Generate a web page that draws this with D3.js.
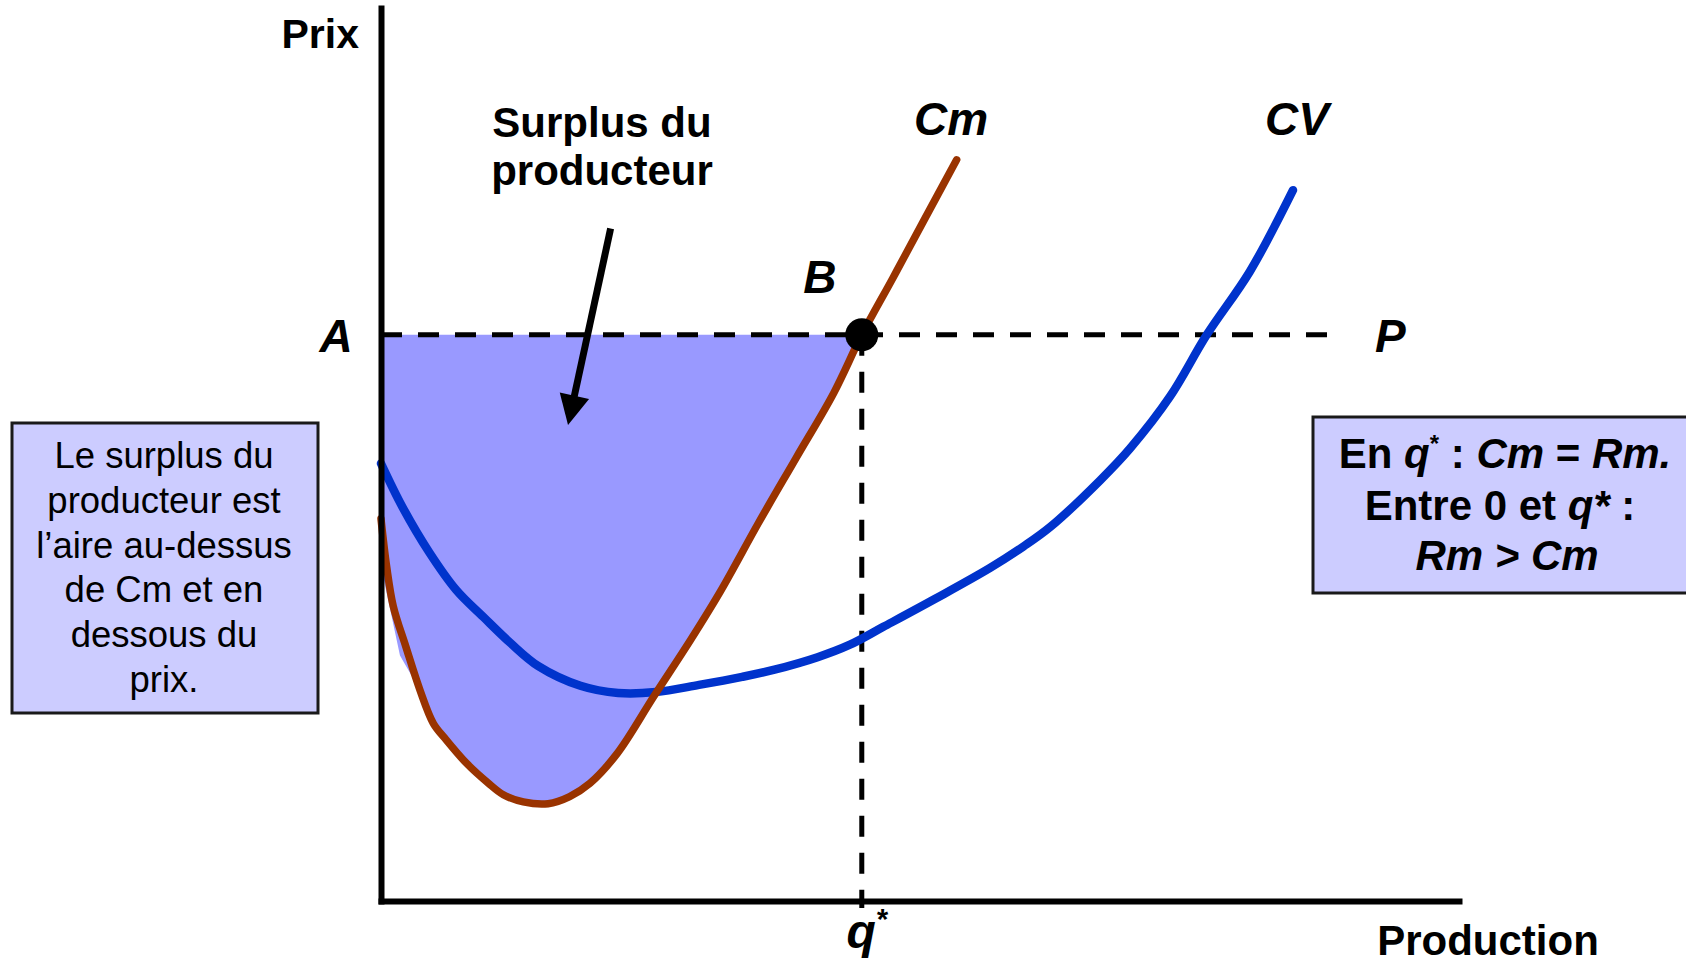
<!DOCTYPE html>
<html>
<head>
<meta charset="utf-8">
<script src="https://cdn.jsdelivr.net/npm/d3@7"></script>
<style>
  html, body { margin: 0; padding: 0; background: #ffffff; overflow: hidden; }
  svg { display: block; }
  text { font-family: "Liberation Sans", Arial, Helvetica, sans-serif; fill: #000; }
</style>
</head>
<body>
<div id="chart"></div>
<script>
// ---------------- data ----------------
const axisTitles = ["Prix", "Production"];
const priceLevel = 63.4;   // P (price line height)
const qStar = 44.6;        // q* where Cm = P

// marginal cost curve Cm : [quantity, price]
const cmCurve = [
  [0, 42.8], [0.53, 37.4], [1.14, 33.0], [2.3, 28.5], [3.62, 23.6], [4.85, 19.9],
  [5.94, 18.2], [7.95, 15.4], [9.95, 13.2], [11.35, 11.9], [13.2, 11.1], [15.5, 10.9],
  [17.5, 11.7], [19.4, 13.2], [21.9, 16.5], [25.3, 22.9], [28.7, 29.2], [31.5, 34.7],
  [35.0, 42.3], [38.5, 49.6], [42.0, 56.9], [44.6, 63.4], [47.5, 69.8], [50.4, 76.3], [53.4, 83.0]
];

// average variable cost curve CV : [quantity, price]
const cvCurve = [
  [0, 49.0], [2.0, 44.1], [4.5, 39.0], [7.0, 34.8], [9.5, 31.8], [12.0, 28.9],
  [14.6, 26.3], [18.5, 24.1], [22.0, 23.3], [25.5, 23.4], [29.5, 24.2], [33.5, 25.1],
  [36.5, 25.9], [40.5, 27.3], [43.5, 28.7], [46.6, 30.7], [51.5, 33.9], [56.5, 37.3],
  [59.6, 39.7], [62.1, 41.9], [66.7, 47.1], [69.5, 50.7], [73.2, 56.5], [76.6, 63.4],
  [80.6, 70.5], [84.6, 79.6]
];

// left edge of the shaded surplus (before it joins Cm)
const surplusLeftEdge = [[0, 63.4], [0, 37.5], [1.76, 27.5], [3.0, 24.9]];

// end of the dashed price line, arrow (from, to)
const priceLineEnd = 89.0;
const arrowFrom = [21.3, 75.3];
const arrowTo = [17.35, 53.3];

const curveLabels = ["Cm", "CV"];
const pointLabels = ["A", "B", "P"];
const surplusTitle = ["Surplus du", "producteur"];
const leftBoxLines = ["Le surplus du", "producteur est", "l\u2019aire au-dessus", "de Cm et en", "dessous du", "prix."];

// ---------------- drawing ----------------
const W = 1686, H = 965;
const svg = d3.select("#chart").append("svg").attr("width", W).attr("height", H);

const x = d3.scaleLinear().domain([0, 100]).range([381, 1459]);
const y = d3.scaleLinear().domain([0, 100]).range([901, 8]);

const COL_CM = "#993300", COL_CV = "#0033cc", COL_FILL = "#9999ff", COL_BOX = "#ccccff";

// surplus fill
const fillPts = surplusLeftEdge.concat(cmCurve.filter(d => d[0] > 3.0 && d[0] <= qStar));
svg.append("path")
  .attr("d", d3.line().x(d => x(d[0])).y(d => y(d[1]))(fillPts) + "Z")
  .attr("fill", COL_FILL).attr("stroke", "none");

// dashed lines
svg.append("line")
  .attr("x1", x(0)).attr("x2", x(priceLineEnd))
  .attr("y1", y(priceLevel)).attr("y2", y(priceLevel))
  .attr("stroke", "#000").attr("stroke-width", 5).attr("stroke-dasharray", "21,16");
svg.append("line")
  .attr("x1", x(qStar)).attr("x2", x(qStar))
  .attr("y1", y(priceLevel)).attr("y2", y(0) + 7)
  .attr("stroke", "#000").attr("stroke-width", 5).attr("stroke-dasharray", "21,16");

// curves
const lineGen = d3.line().x(d => x(d[0])).y(d => y(d[1])).curve(d3.curveCatmullRom.alpha(0.5));
svg.append("path").attr("d", lineGen(cvCurve))
  .attr("fill", "none").attr("stroke", COL_CV).attr("stroke-width", 8.5)
  .attr("stroke-linecap", "round").attr("stroke-linejoin", "round");
svg.append("path").attr("d", lineGen(cmCurve))
  .attr("fill", "none").attr("stroke", COL_CM).attr("stroke-width", 7.5)
  .attr("stroke-linecap", "round").attr("stroke-linejoin", "round");

// axes (no ticks)
svg.append("g").attr("transform", `translate(0,${y(0)})`)
  .call(d3.axisBottom(x).tickValues([]).tickSizeOuter(0));
svg.append("g").attr("transform", `translate(${x(0)},0)`)
  .call(d3.axisLeft(y).tickValues([]).tickSizeOuter(0));
svg.selectAll(".domain").attr("stroke", "#000").attr("stroke-width", 6).attr("stroke-linecap", "square");

// point B
svg.append("circle").attr("cx", x(qStar)).attr("cy", y(priceLevel)).attr("r", 16.5).attr("fill", "#000");

// arrow
{
  const x1 = x(arrowFrom[0]), y1 = y(arrowFrom[1]);
  const x2 = x(arrowTo[0]), y2 = y(arrowTo[1]);
  const len = Math.hypot(x2 - x1, y2 - y1);
  const ux = (x2 - x1) / len, uy = (y2 - y1) / len;
  const hl = 30, hw = 15;
  const bx = x2 - ux * hl, by = y2 - uy * hl;
  svg.append("line").attr("x1", x1).attr("y1", y1).attr("x2", bx + ux * 4).attr("y2", by + uy * 4)
    .attr("stroke", "#000").attr("stroke-width", 7);
  svg.append("path")
    .attr("d", `M${x2},${y2}L${bx - uy * hw},${by + ux * hw}L${bx + uy * hw},${by - ux * hw}Z`)
    .attr("fill", "#000");
}

// axis titles
svg.append("text").attr("x", x(0) - 22).attr("y", 48).attr("text-anchor", "end")
  .attr("font-size", 41).attr("font-weight", "bold").text(axisTitles[0]);
svg.append("text").attr("x", 1488).attr("y", 955).attr("text-anchor", "middle")
  .attr("font-size", 42).attr("font-weight", "bold").text(axisTitles[1]);

// italic labels
const lab = (tx, ty, s) => svg.append("text").attr("x", tx).attr("y", ty).attr("text-anchor", "middle")
  .attr("font-size", 46).attr("font-weight", "bold").attr("font-style", "italic").text(s);
lab(x(0) - 45, y(priceLevel) + 17, pointLabels[0]);
lab(x(qStar) - 42, y(priceLevel) - 42, pointLabels[1]);
lab(x(priceLineEnd) + 50, y(priceLevel) + 17, pointLabels[2]);
lab(951, 135, curveLabels[0]);
lab(1297, 135, curveLabels[1]);

// q* label
{
  const t = svg.append("text").attr("x", x(qStar) + 5).attr("y", 948).attr("text-anchor", "middle")
    .attr("font-weight", "bold").attr("font-style", "italic");
  t.append("tspan").attr("font-size", 48).text("q");
  t.append("tspan").attr("font-size", 29).attr("dy", -19).text("*");
}

// surplus title
surplusTitle.forEach((s, i) => {
  svg.append("text").attr("x", 602).attr("y", 137 + i * 48).attr("text-anchor", "middle")
    .attr("font-size", 42).attr("font-weight", "bold").text(s);
});

// left box
svg.append("rect").attr("x", 12).attr("y", 423).attr("width", 306).attr("height", 290)
  .attr("fill", COL_BOX).attr("stroke", "#1a1a1a").attr("stroke-width", 3);
leftBoxLines.forEach((s, i) => {
  svg.append("text").attr("x", 164).attr("y", 468 + i * 44.8).attr("text-anchor", "middle")
    .attr("font-size", 36.5).text(s);
});

// right box
svg.append("rect").attr("x", 1313).attr("y", 417).attr("width", 400).attr("height", 176)
  .attr("fill", COL_BOX).attr("stroke", "#1a1a1a").attr("stroke-width", 3);
{
  const cx = 1505, fs = 42;
  const l1 = svg.append("text").attr("x", cx).attr("y", 468).attr("text-anchor", "middle")
    .attr("font-size", fs).attr("font-weight", "bold");
  l1.append("tspan").text("En ");
  l1.append("tspan").attr("font-style", "italic").text("q");
  l1.append("tspan").attr("font-size", 24).attr("dy", -16).text("*");
  l1.append("tspan").attr("dy", 16).text(" : ");
  l1.append("tspan").attr("font-style", "italic").text("Cm");
  l1.append("tspan").text(" = ");
  l1.append("tspan").attr("font-style", "italic").text("Rm.");

  const l2 = svg.append("text").attr("x", cx - 5).attr("y", 520).attr("text-anchor", "middle")
    .attr("font-size", fs).attr("font-weight", "bold");
  l2.append("tspan").text("Entre 0 et ");
  l2.append("tspan").attr("font-style", "italic").text("q*");
  l2.append("tspan").text(" :");

  svg.append("text").attr("x", cx + 2).attr("y", 570).attr("text-anchor", "middle")
    .attr("font-size", fs).attr("font-weight", "bold").attr("font-style", "italic").text("Rm > Cm");
}
</script>
</body>
</html>
